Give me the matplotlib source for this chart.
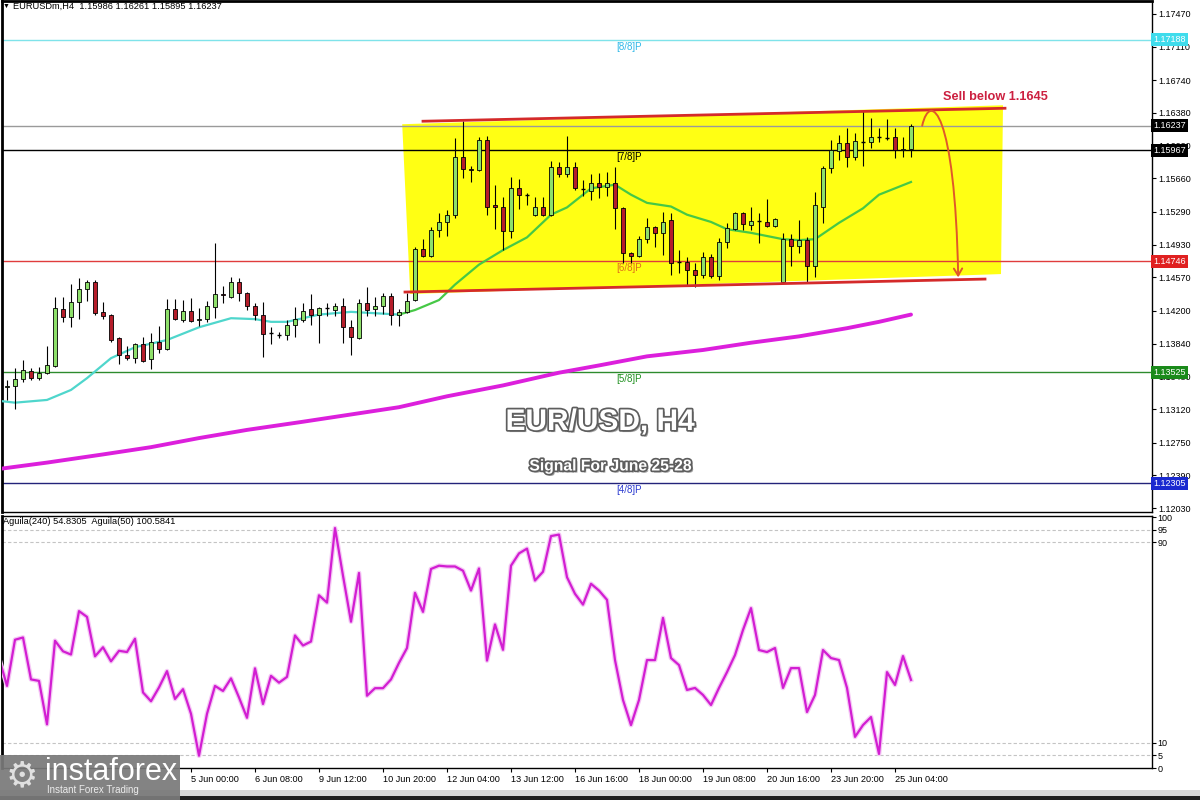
import matplotlib
matplotlib.use("Agg")
import matplotlib.pyplot as plt
import matplotlib.patheffects as pe
from matplotlib.patches import Polygon, FancyArrowPatch, Rectangle
from matplotlib.path import Path
import numpy as np

plt.rcParams['font.family'] = ['Liberation Sans', 'DejaVu Sans']

# EURUSD H4 candles
opens = [1.1336, 1.1337, 1.1345, 1.1354, 1.1346, 1.1352, 1.1359, 1.1422, 1.1413, 1.1430,
         1.1444, 1.1452, 1.1419, 1.1415, 1.1390, 1.1372, 1.1368, 1.1384, 1.1367, 1.1386,
         1.1378, 1.1422, 1.1410, 1.1420, 1.1410, 1.1411, 1.1424, 1.1439, 1.1435, 1.1452,
         1.1440, 1.1425, 1.1416, 1.1396, 1.1394, 1.1394, 1.1405, 1.1410, 1.1422, 1.1415,
         1.1423, 1.1421, 1.1425, 1.1402, 1.1390, 1.1429, 1.1422, 1.1425, 1.1436, 1.1415,
         1.1419, 1.1432, 1.1488, 1.1481, 1.1509, 1.1518, 1.1526, 1.1589, 1.1576, 1.1575,
         1.1608, 1.1537, 1.1534, 1.1508, 1.1555, 1.1548, 1.1526, 1.1535, 1.1526, 1.1578,
         1.1571, 1.1579, 1.1554, 1.1552, 1.1561, 1.1556, 1.1561, 1.1533, 1.1484, 1.1481,
         1.1499, 1.1512, 1.1506, 1.1520, 1.1474, 1.1474, 1.1465, 1.1460, 1.1479, 1.1458,
         1.1496, 1.1510, 1.1528, 1.1515, 1.1519, 1.1518, 1.1513, 1.1452, 1.1499, 1.1492,
         1.1498, 1.1470, 1.1535, 1.1577, 1.1596, 1.1605, 1.1590, 1.1606, 1.1606, 1.1611,
         1.1610, 1.1611, 1.1597, 1.15986]
highs = [1.1344, 1.1357, 1.1366, 1.1357, 1.1358, 1.1381, 1.1435, 1.1435, 1.1450, 1.1456,
         1.1454, 1.1454, 1.1430, 1.1417, 1.1391, 1.1381, 1.1385, 1.1391, 1.1396, 1.1403,
         1.1433, 1.1433, 1.1432, 1.1434, 1.1423, 1.1431, 1.1495, 1.1447, 1.1457, 1.1456,
         1.1441, 1.1429, 1.1430, 1.1402, 1.1397, 1.1410, 1.1424, 1.1429, 1.1439, 1.1424,
         1.1429, 1.1429, 1.1434, 1.1410, 1.1433, 1.1446, 1.1435, 1.1440, 1.1440, 1.1422,
         1.1440, 1.1490, 1.1499, 1.1512, 1.1528, 1.1531, 1.1610, 1.1629, 1.1580, 1.1611,
         1.1613, 1.1559, 1.1545, 1.1567, 1.1565, 1.1550, 1.1545, 1.1545, 1.1585, 1.1584,
         1.1613, 1.1584, 1.1564, 1.1571, 1.1572, 1.1573, 1.1578, 1.1534, 1.1485, 1.1503,
         1.1522, 1.1514, 1.1529, 1.1528, 1.1487, 1.1479, 1.1473, 1.1485, 1.1483, 1.1500,
         1.1517, 1.1529, 1.1529, 1.1534, 1.1528, 1.1543, 1.1522, 1.1506, 1.1505, 1.1520,
         1.1501, 1.1551, 1.1580, 1.1608, 1.1614, 1.1621, 1.1616, 1.1640, 1.1632, 1.1622,
         1.1631, 1.1621, 1.1611, 1.16261]
lows = [1.1322, 1.1312, 1.1342, 1.1344, 1.1344, 1.1351, 1.1358, 1.1408, 1.1402, 1.1411,
        1.1431, 1.1415, 1.1411, 1.1386, 1.1362, 1.1366, 1.1363, 1.1364, 1.1356, 1.1374,
        1.1377, 1.1410, 1.1408, 1.1408, 1.1403, 1.1408, 1.1412, 1.1429, 1.1434, 1.1431,
        1.1421, 1.1410, 1.1369, 1.1384, 1.1390, 1.1388, 1.1391, 1.1408, 1.1405, 1.1385,
        1.1414, 1.1414, 1.1385, 1.1372, 1.1389, 1.1414, 1.1414, 1.1417, 1.1405, 1.1403,
        1.1418, 1.1431, 1.1479, 1.1479, 1.1501, 1.1503, 1.1522, 1.1566, 1.1562, 1.1574,
        1.1526, 1.1510, 1.1487, 1.1500, 1.1532, 1.1537, 1.1524, 1.1524, 1.1524, 1.1568,
        1.1568, 1.1553, 1.1547, 1.1542, 1.1544, 1.1547, 1.1510, 1.1473, 1.1473, 1.1479,
        1.1495, 1.1490, 1.1482, 1.1460, 1.1462, 1.1449, 1.1446, 1.1456, 1.1456, 1.1454,
        1.1489, 1.1509, 1.1509, 1.1509, 1.1495, 1.1512, 1.1512, 1.1451, 1.1470, 1.1484,
        1.1452, 1.1457, 1.1517, 1.1572, 1.1586, 1.1578, 1.1586, 1.1580, 1.1599, 1.1606,
        1.1608, 1.1588, 1.1590, 1.15895]
closes = [1.1337, 1.1345, 1.1355, 1.1346, 1.1352, 1.1360, 1.1423, 1.1413, 1.1430, 1.1444,
          1.1452, 1.1418, 1.1414, 1.1388, 1.1372, 1.1368, 1.1384, 1.1365, 1.1386, 1.1378,
          1.1422, 1.1411, 1.1420, 1.1409, 1.1411, 1.1425, 1.1439, 1.1438, 1.1452, 1.1440,
          1.1425, 1.1415, 1.1395, 1.1396, 1.1394, 1.1405, 1.1411, 1.1420, 1.1415, 1.1423,
          1.1423, 1.1425, 1.1402, 1.1391, 1.1429, 1.1421, 1.1425, 1.1436, 1.1415, 1.1419,
          1.1431, 1.1488, 1.1480, 1.1509, 1.1518, 1.1526, 1.1589, 1.1576, 1.1575, 1.1608,
          1.1535, 1.1534, 1.1508, 1.1555, 1.1548, 1.1548, 1.1535, 1.1526, 1.1578, 1.1571,
          1.1578, 1.1555, 1.1554, 1.1561, 1.1557, 1.1561, 1.1533, 1.1484, 1.1481, 1.1499,
          1.1512, 1.1506, 1.1518, 1.1473, 1.1474, 1.1465, 1.1460, 1.1479, 1.1458, 1.1496,
          1.1511, 1.1528, 1.1516, 1.1519, 1.1519, 1.1513, 1.1521, 1.1499, 1.1491, 1.1498,
          1.1470, 1.1537, 1.1577, 1.1597, 1.1605, 1.1590, 1.1607, 1.1606, 1.1611, 1.1611,
          1.1610, 1.1597, 1.1598, 1.16237]

# moving averages, read at selected bars
ma_fast_bars = [-1, 1, 5, 8, 10, 13, 16, 20, 24, 28, 31, 33, 35, 39, 43, 47, 49, 51, 54, 56,
                59, 62, 65, 68, 70, 72, 73, 76, 78, 80, 83, 85, 88, 90, 93, 97, 99, 101, 104,
                107, 109, 111, 113]
ma_fast = [1.1321, 1.1319, 1.1322, 1.1333, 1.1346, 1.1368, 1.1380, 1.1388, 1.1402, 1.1412,
           1.1411, 1.1408, 1.1408, 1.1416, 1.1419, 1.1417, 1.1416, 1.1421, 1.1432, 1.1449,
           1.1471, 1.1487, 1.1501, 1.1526, 1.1534, 1.1548, 1.1555, 1.1559, 1.1548, 1.1539,
           1.1535, 1.1526, 1.1518, 1.1510, 1.1506, 1.1499, 1.1498, 1.1499, 1.1517, 1.1533,
           1.1548, 1.1555, 1.1562]
ma_slow_bars = [-1, 5, 12, 18, 24, 30, 37, 43, 49, 55, 62, 69, 74, 80, 87, 93, 99, 105, 109, 113]
ma_slow = [1.1246, 1.1253, 1.1262, 1.1270, 1.1280, 1.1289, 1.1298, 1.1306, 1.1314, 1.1326,
           1.1338, 1.1352, 1.1360, 1.1370, 1.1377, 1.1385, 1.1392, 1.1401, 1.1408, 1.1416]

# Aguila oscillator, first value belongs to the bar before the first candle
aguila = [43.9, 32.7, 51.1, 52.0, 35.3, 34.7, 17.4, 50.7, 46.5, 45.2, 62.5, 60.2, 44.5, 48.1,
          42.5, 46.7, 46.2, 51.5, 30.1, 26.6, 32.1, 38.6, 27.5, 31.4, 21.6, 4.9, 21.6, 32.7,
          30.7, 35.7, 28.1, 20.0, 39.7, 25.5, 36.7, 34.0, 36.3, 52.8, 48.8, 50.4, 68.8, 65.9,
          95.6, 76.6, 58.3, 77.7, 28.8, 31.8, 31.8, 35.3, 41.9, 47.8, 69.8, 62.2, 79.3, 80.6,
          80.3, 80.3, 78.6, 70.7, 79.5, 42.8, 57.2, 47.1, 80.6, 85.5, 87.4, 74.7, 78.2, 92.4,
          93.0, 76.0, 69.4, 65.1, 73.4, 70.7, 67.0, 43.0, 27.1, 17.1, 27.1, 43.0, 43.0, 59.8,
          43.8, 41.0, 31.1, 31.9, 29.1, 25.1, 31.9, 38.2, 45.0, 55.0, 63.7, 47.0, 46.2, 47.8,
          31.9, 39.8, 39.8, 22.3, 29.1, 47.0, 43.8, 43.0, 31.9, 12.4, 17.1, 20.3, 5.6, 38.2,
          33.1, 44.6, 35.1]

murrey_names = ["[8/8]P", "[7/8]P", "[6/8]P", "[5/8]P", "[4/8]P"]
murrey_prices = [1.17188, 1.15967, 1.14746, 1.13525, 1.12305]
last_price = 1.16237

price_ticks = [1.17470, 1.17110, 1.16740, 1.16380, 1.16020, 1.15660, 1.15290, 1.14930,
               1.14570, 1.14200, 1.13840, 1.13480, 1.13120, 1.12750, 1.12390, 1.12030]
osc_ticks = [0, 5, 10, 90, 95, 100]
time_labels = ["5 Jun 00:00", "6 Jun 08:00", "9 Jun 12:00", "10 Jun 20:00", "12 Jun 04:00",
               "13 Jun 12:00", "16 Jun 16:00", "18 Jun 00:00", "19 Jun 08:00", "20 Jun 16:00",
               "23 Jun 20:00", "25 Jun 04:00"]
time_label_bars = [23, 31, 39, 47, 55, 63, 71, 79, 87, 95, 103, 111]

# styles
murrey_line_colors = ['#7fe3ea', 'black', '#e03c3c', '#2e8b2e', '#23237a']
murrey_text_colors = ['#30b8e8', 'black', '#e0701a', '#209020', '#2a3ad0']
murrey_box_colors = ['#3fdcec', 'black', '#e02020', '#1a8a1a', '#1a2ad0']

W, H = 1200, 800
fig = plt.figure(figsize=(12, 8), dpi=100)
ax = fig.add_axes([2 / W, 1 - 512 / H, 1150 / W, 511 / H])
ax2 = fig.add_axes([2 / W, 1 - 768 / H, 1150 / W, 252 / H])

xlim = (-0.625, 143.125)
ax.set_xlim(*xlim)
ax2.set_xlim(*xlim)
ax.set_ylim(1.11986, 1.17613)
ax2.set_ylim(0, 100.4)

# yellow channel zone
ax.add_patch(Polygon([(49.4, 1.16256), (124.5, 1.16465), (124.25, 1.14606), (50.4, 1.14386)],
                     closed=True, fc='#ffff14', ec='none', zorder=1))

# Murrey levels and last price
for name, p, lc, tc in zip(murrey_names, murrey_prices, murrey_line_colors, murrey_text_colors):
    ax.axhline(p, color=lc, lw=1, zorder=2)
    ax.text(76.2, p - 0.00022, name, color=tc, fontsize=7, va='top', ha='left', zorder=6)
ax.axhline(last_price, color='#9a9a9a', lw=1, zorder=2)

# moving averages
fb = np.array(ma_fast_bars)
fv = np.array(ma_fast)
ax.plot(fb[fb <= 49], fv[fb <= 49], color='#4fd6cc', lw=1.6, zorder=3)
ax.plot(fb[fb >= 49], fv[fb >= 49], color='#46c846', lw=1.6, zorder=3)
ax.plot(ma_slow_bars, ma_slow, color='#dc1fdc', lw=2.8, zorder=3, solid_capstyle='round')

# candles
o, h, l, c = map(np.array, (opens, highs, lows, closes))
x = np.arange(len(o))
up = c > o
dn = c < o
flat = ~(up | dn)
ax.vlines(x, l, h, color='black', lw=0.8, zorder=4)
ax.bar(x[up], (c - o)[up], bottom=o[up], width=0.62, color='#8ee06a',
       edgecolor='black', lw=0.6, zorder=5)
ax.bar(x[dn], (o - c)[dn], bottom=c[dn], width=0.62, color='#b51d2a',
       edgecolor='black', lw=0.6, zorder=5)
ax.hlines(c[flat], x[flat] - 0.31, x[flat] + 0.31, color='black', lw=1, zorder=5)

# channel lines
ax.plot([52, 124.75], [1.16289, 1.16432], color='#d42a2a', lw=2, zorder=6)
ax.plot([49.75, 122.25], [1.14408, 1.14551], color='#d42a2a', lw=2, zorder=6)

# sell arrow
arrow_path = Path([(114.4, 1.1624), (115.4, 1.1663), (118.5, 1.1641), (118.9, 1.1457)],
                  [Path.MOVETO, Path.CURVE4, Path.CURVE4, Path.CURVE4])
ax.add_patch(FancyArrowPatch(path=arrow_path, arrowstyle='->,head_length=5,head_width=3',
                             color='#e0582a', lw=1.4, zorder=7))
ax.text(117, 1.16553, "Sell below 1.1645", color='#cc2040', fontsize=9.2,
        fontweight='bold', va='center', ha='left', zorder=7)

# right price axis
ax.yaxis.tick_right()
ax.set_yticks(price_ticks)
ax.set_yticklabels([f"{v:.5f}" for v in price_ticks])
ax.tick_params(axis='y', length=3, width=0.8, pad=1.5, labelsize=6.5, direction='out')
ax.tick_params(axis='x', bottom=False, labelbottom=False)
for p, bc in zip(murrey_prices, murrey_box_colors):
    ax.text(1.0012, p, f"{p:.5f}", transform=ax.get_yaxis_transform(), color='white',
            fontsize=6.5, ha='left', va='center', zorder=10, clip_on=False,
            bbox=dict(boxstyle='square,pad=0.22', fc=bc, ec='none'))
ax.text(1.0012, last_price, f"{last_price:.5f}", transform=ax.get_yaxis_transform(),
        color='white', fontsize=6.5, ha='left', va='center', zorder=10, clip_on=False,
        bbox=dict(boxstyle='square,pad=0.22', fc='black', ec='none'))

# oscillator panel
for v in [5, 10, 90, 95]:
    ax2.axhline(v, color='#c4c4c4', lw=0.8, ls=(0, (3, 2)), zorder=1)
ax2.plot(np.arange(-1, len(aguila) - 1), aguila, color='#d21ed2', lw=1.6, zorder=3,
         path_effects=[pe.withStroke(linewidth=3.4, foreground='#f5c8f5')])
ax2.yaxis.tick_right()
ax2.set_yticks(osc_ticks)
ax2.set_yticklabels([str(v) for v in osc_ticks])
ax2.tick_params(axis='y', length=3, width=0.8, pad=1, labelsize=6.5)
ax2.set_xticks(time_label_bars)
ax2.set_xticklabels(time_labels, ha='left')
ax2.tick_params(axis='x', length=3, width=0.8, pad=2, labelsize=6.6)

for a in (ax, ax2):
    for s in a.spines.values():
        s.set_color('black')
        s.set_linewidth(1)
    a.spines['left'].set_linewidth(2)
ax.spines['top'].set_linewidth(2)

# header texts
fig.text(3 / W, 1 - 6 / H, "\u25bc", fontsize=5, va='center', ha='left')
fig.text(13 / W, 1 - 6 / H, "EURUSDm,H4  1.15986 1.16261 1.15895 1.16237",
         fontsize=6.7, va='center', ha='left')
fig.text(3 / W, 1 - 522 / H, "Aguila(240) 54.8305  Aguila(50) 100.5841",
         fontsize=6.7, va='center', ha='left')

# centre titles
title_fx = [pe.withSimplePatchShadow(offset=(1.5, -1.5), shadow_rgbFace='#444444', alpha=0.5),
            pe.withStroke(linewidth=2.5, foreground='#5e5e5e')]
fig.text(600 / W, 1 - 422 / H, "EUR/USD, H4", fontsize=21.5, fontweight='bold',
         color='white', ha='center', va='center', path_effects=title_fx)
fig.text(611 / W, 1 - 466 / H, "Signal For June 25-28", fontsize=11.3, fontweight='bold',
         color='white', ha='center', va='center', path_effects=title_fx)

# bottom window edge
fig.add_artist(Rectangle((0, 0), 1, 4 / H, transform=fig.transFigure, fc='#202020',
                         ec='none', zorder=18))
fig.add_artist(Rectangle((0, 4 / H), 1, 6 / H, transform=fig.transFigure, fc='#d8d8d8',
                         ec='none', zorder=18))

# watermark
fig.add_artist(Rectangle((0, 0), 180 / W, 45 / H, transform=fig.transFigure, fc='#7a7a7a',
                         ec='none', alpha=0.93, zorder=20))
fig.text(22 / W, 1 - 776 / H, "\u2699", fontsize=26, color='#e0e0e0', ha='center',
         va='center', family='DejaVu Sans', zorder=21)
fig.text(45 / W, 1 - 772 / H, "instaforex", fontsize=22, color='white', ha='left',
         va='center', zorder=21)
fig.text(47 / W, 1 - 790 / H, "Instant Forex Trading", fontsize=7, color='#ececec',
         ha='left', va='center', zorder=21)

fig.savefig("out.png", dpi=100)
